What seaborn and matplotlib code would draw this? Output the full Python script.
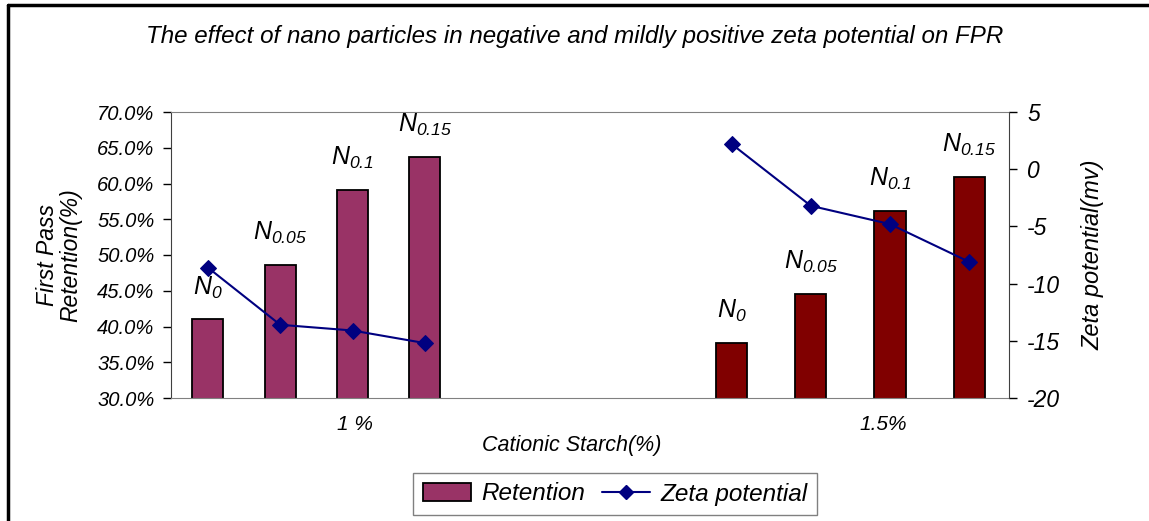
import numpy as np
import pandas as pd
import matplotlib.pyplot as plt
import seaborn as sns
from matplotlib.patches import Patch
from matplotlib.lines import Line2D
from matplotlib.ticker import PercentFormatter, MultipleLocator

# data
groups = ['1 %', '1.5%']
nano_labels = [r'$N_{0}$', r'$N_{0.05}$', r'$N_{0.1}$', r'$N_{0.15}$']
retention_1 = [41.0, 48.6, 59.1, 63.7]   # %
retention_15 = [37.7, 44.6, 56.2, 60.9]  # %
zeta_1 = [-8.6, -13.6, -14.1, -15.2]     # mv
zeta_15 = [2.2, -3.2, -4.8, -8.1]        # mv

sns.set_style('white')
plt.rcParams['font.family'] = ['Liberation Sans', 'DejaVu Sans']
plt.rcParams['font.style'] = 'italic'
plt.rcParams['mathtext.fontset'] = 'custom'
plt.rcParams['mathtext.rm'] = 'Liberation Sans:italic'
plt.rcParams['mathtext.it'] = 'Liberation Sans:italic'
plt.rcParams['axes.unicode_minus'] = False
for key in ['text.color', 'axes.labelcolor', 'xtick.color', 'ytick.color']:
    plt.rcParams[key] = 'black'

# layout of the two groups along the x axis (axis runs 0..10)
starts = [0.44, 6.69]
steps = [0.863, 0.945]
label_pos = [2.2, 8.5]

rows = []
for g, (ret, zeta) in enumerate([(retention_1, zeta_1), (retention_15, zeta_15)]):
    for i in range(4):
        rows.append({'group': groups[g], 'pos': starts[g] + i * steps[g],
                     'retention': ret[i], 'zeta': zeta[i], 'label': nano_labels[i]})
df = pd.DataFrame(rows)

fig = plt.figure(figsize=(11.49, 5.21), dpi=100)
ax = fig.add_axes([171 / 1149, 1 - 398 / 521, 838 / 1149, 286 / 521])

sns.barplot(data=df, x='pos', y='retention', hue='group', native_scale=True,
            dodge=False, width=0.43, palette=['#993366', '#800000'], saturation=1,
            edgecolor='black', linewidth=1.3, legend=False, ax=ax)

ax.set_xlim(0, 10)
ax.set_ylim(30, 70)
ax.yaxis.set_major_locator(MultipleLocator(5))
ax.yaxis.set_major_formatter(PercentFormatter(decimals=1))
ax.set_xticks(label_pos)
ax.set_xticklabels(groups)
ax.tick_params(axis='x', length=0, pad=12, labelsize=15)
ax.tick_params(axis='y', direction='out', length=6, width=1, color='black',
               labelsize=14.5, left=True, pad=6)
ax.set_xlabel('')
ax.set_ylabel('First Pass\nRetention(%)', fontsize=16.5, labelpad=11, linespacing=1.0)
for side in ['top', 'bottom']:
    ax.spines[side].set_color('#808080')
ax.spines['left'].set_color('#404040')
ax.spines['right'].set_visible(False)

for _, r in df.iterrows():
    ax.annotate(r['label'], (r['pos'], r['retention']), xytext=(0, 23),
                textcoords='offset points', ha='center', va='center', fontsize=18)

ax2 = ax.twinx()
sns.lineplot(data=df, x='pos', y='zeta', units='group', estimator=None,
             color='#000080', marker='D', markersize=8, markeredgecolor='#000080',
             linewidth=1.5, ax=ax2)
ax2.set_ylim(-20, 5)
ax2.yaxis.set_major_locator(MultipleLocator(5))
ax2.tick_params(axis='y', direction='out', length=6, width=1, color='black',
                labelsize=16.5, right=True, pad=7)
ax2.set_ylabel('Zeta potential(mv)', fontsize=17, labelpad=15)
ax2.set_xlabel('')
ax2.spines['right'].set_color('#404040')
for side in ['top', 'bottom', 'left']:
    ax2.spines[side].set_visible(False)

fig.text(572 / 1149, 1 - 445 / 521, 'Cationic Starch(%)', ha='center', va='center', fontsize=15.5)
fig.text(0.5, 1 - 37 / 521,
         'The effect of nano particles in negative and mildly positive zeta potential on FPR',
         ha='center', va='center', fontsize=17.4)

handles = [Patch(facecolor='#993366', edgecolor='black', linewidth=1.3),
           Line2D([0], [0], color='#000080', marker='D', markersize=7, linewidth=1.5)]
fig.legend(handles, ['Retention', 'Zeta potential'], loc='center',
           bbox_to_anchor=(615 / 1149, 1 - 494 / 521), ncol=2, fontsize=17.5,
           frameon=True, fancybox=False, edgecolor='#606060', handlelength=2.0,
           columnspacing=0.7, handletextpad=0.4, borderpad=0.4)

# chart frame (top and left edges visible)
fig.add_artist(Line2D([8 / 1149, 1], [1 - 5 / 521, 1 - 5 / 521], color='black',
                      linewidth=2.5, transform=fig.transFigure))
fig.add_artist(Line2D([8 / 1149, 8 / 1149], [0, 1 - 5 / 521], color='black',
                      linewidth=2.5, transform=fig.transFigure))

fig.savefig('out.png', dpi=100)
